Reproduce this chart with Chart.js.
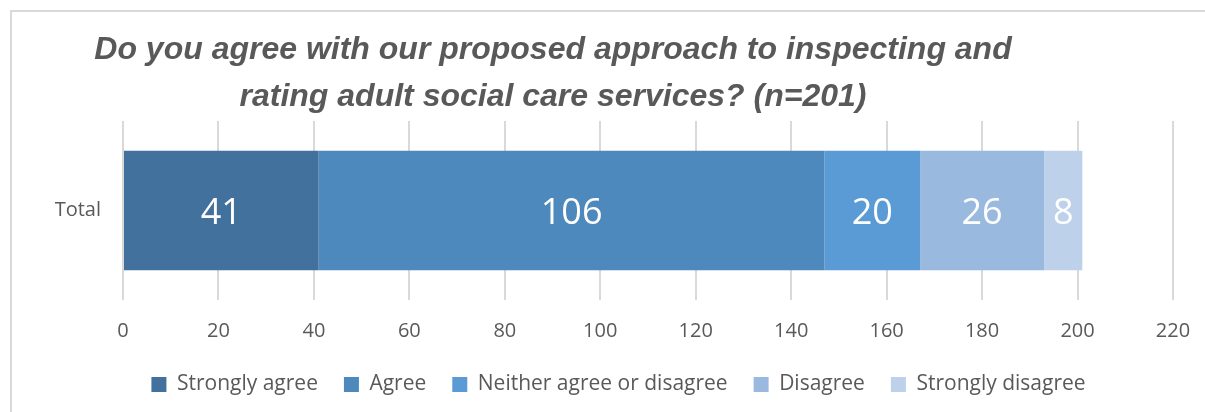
<!DOCTYPE html>
<html>
<head>
<meta charset="utf-8">
<script src="https://cdn.jsdelivr.net/npm/chart.js@4/dist/chart.umd.min.js"></script>
<style>
  body { margin: 0; background: #fff; }
  #wrap { position: relative; width: 1205px; height: 412px; }
  #frame {
    position: absolute; left: 10px; top: 10px; right: 0; bottom: 0;
    border-top: 2px solid #d9d9d9; border-left: 2px solid #d9d9d9;
  }
  canvas { position: absolute; left: 0; top: 0; }
</style>
</head>
<body>
<div id="wrap">
  <div id="frame"></div>
  <canvas id="chart" width="1205" height="412"></canvas>
</div>
<script>
// Data
const categories = ["Total"];
const seriesNames = ["Strongly agree", "Agree", "Neither agree or disagree", "Disagree", "Strongly disagree"];
const seriesValues = [41, 106, 20, 26, 8];
const seriesColors = ["#41719c", "#4e89bd", "#5b9bd5", "#9ab9df", "#bdd1eb"];
const titleLines = ["Do you agree with our proposed approach to inspecting and", "rating adult social care services? (n=201)"];
const axisMin = 0;
const axisMax = 220;
const axisStep = 20;

const textColor = "#595959";
const fontFamily = "'Open Sans', sans-serif";

const datasets = seriesNames.map((name, i) => ({
  label: name,
  data: [seriesValues[i]],
  backgroundColor: seriesColors[i],
  borderWidth: 0,
  barPercentage: 0.667,
  categoryPercentage: 1
}));

// Move the title and legend boxes so they centre where the original did
const boxShift = {
  id: "boxShift",
  afterLayout(chart) {
    if (chart.titleBlock) {
      chart.titleBlock.left = 5;
      chart.titleBlock.right = 1101;
    }
    if (chart.legend) {
      chart.legend.left = 32;
      chart.legend.right = 1205;
    }
  }
};

// White value labels in the middle of each segment
const barLabels = {
  id: "barLabels",
  afterDatasetsDraw(chart) {
    const ctx = chart.ctx;
    ctx.save();
    ctx.fillStyle = "#ffffff";
    ctx.font = "36px " + fontFamily;
    ctx.textAlign = "center";
    ctx.textBaseline = "middle";
    chart.data.datasets.forEach((ds, i) => {
      chart.getDatasetMeta(i).data.forEach((bar, j) => {
        ctx.fillText(String(ds.data[j]), (bar.x + bar.base) / 2, bar.y + 3);
      });
    });
    ctx.restore();
  }
};

new Chart(document.getElementById("chart"), {
  type: "bar",
  data: { labels: categories, datasets: datasets },
  options: {
    indexAxis: "y",
    responsive: false,
    animation: false,
    layout: { padding: { left: 12, right: 32, top: 0, bottom: 7 } },
    scales: {
      x: {
        stacked: true,
        min: axisMin,
        max: axisMax,
        ticks: { stepSize: axisStep, color: textColor, font: { family: fontFamily, size: 20 }, padding: 19 },
        grid: { color: "#d9d9d9", lineWidth: 2, drawTicks: false },
        border: { display: false },
        afterFit(scale) {
          scale.height = 48;
          scale.paddingLeft = 10;
          scale.paddingRight = 10;
        }
      },
      y: {
        stacked: true,
        ticks: { color: textColor, font: { family: fontFamily, size: 20 }, padding: 22 },
        grid: { display: false, drawTicks: false },
        border: { display: false },
        afterFit(scale) { scale.width = 111; }
      }
    },
    plugins: {
      title: {
        display: true,
        text: titleLines,
        color: textColor,
        font: { family: "'Liberation Sans', sans-serif", size: 32, weight: "bold", style: "italic", lineHeight: 1.469 },
        padding: { top: 27, bottom: 0 }
      },
      legend: {
        position: "bottom",
        labels: {
          color: textColor,
          font: { family: fontFamily, size: 21 },
          boxWidth: 15,
          boxHeight: 15,
          padding: 26
        }
      },
      tooltip: { enabled: false }
    }
  },
  plugins: [boxShift, barLabels]
});
</script>
</body>
</html>
